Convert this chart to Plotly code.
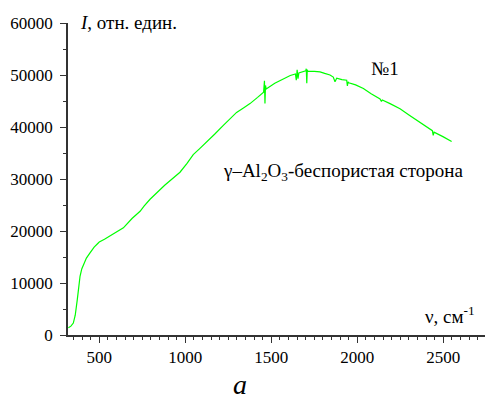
import plotly.graph_objects as go

wavenumber = [320, 335, 349, 360, 372, 380, 388, 398, 407, 425, 446, 470, 494, 500, 530, 562, 600, 640,
              690, 737, 760, 795, 880, 969, 1010, 1046, 1085, 1124, 1170, 1221, 1260, 1298, 1340, 1376,
              1420, 1455, 1460, 1463, 1466, 1470, 1520, 1570, 1610, 1640, 1645, 1650, 1655, 1660, 1700,
              1703, 1706, 1709, 1712, 1750, 1783, 1810, 1841, 1860, 1870, 1880, 1910, 1938, 1942, 1946,
              1950, 1990, 2035, 2080, 2132, 2140, 2145, 2190, 2248, 2300, 2364, 2400, 2436, 2441, 2446,
              2500, 2548]
intensity = [1400, 1700, 2300, 3800, 6800, 9300, 11300, 12700, 13500, 14800, 15800, 16900, 17700, 17900,
             18400, 19000, 19800, 20600, 22400, 23800, 24800, 26100, 28800, 31300, 33000, 34700, 35900,
             37100, 38600, 40300, 41600, 42800, 43700, 44500, 45700, 46700, 48900, 44500, 48000, 47300,
             48400, 49300, 49900, 50200, 49000, 51000, 49300, 50400, 50800, 51200, 48400, 51000, 50700,
             50700, 50600, 50300, 50000, 49600, 48700, 49400, 49100, 49000, 47900, 48700, 48500, 48100,
             47400, 46400, 45400, 44900, 45200, 44500, 43500, 42300, 40900, 40200, 39300, 38400, 39000,
             38100, 37200]

x_ticks = [500, 1000, 1500, 2000, 2500]
y_ticks = [0, 10000, 20000, 30000, 40000, 50000, 60000]

FONT = "'Liberation Serif', 'DejaVu Serif', serif"

fig = go.Figure()
fig.add_trace(go.Scatter(x=wavenumber, y=intensity, mode="lines",
                         line=dict(color="#00FF00", width=1.2), showlegend=False,
                         hoverinfo="skip"))

axis_common = dict(showline=True, linecolor="#333333", linewidth=1.5, ticks="outside",
                   tickcolor="#333333", tickwidth=1.3, ticklen=6, showgrid=False, zeroline=False,
                   tickfont=dict(family=FONT, size=17, color="black"), mirror=False)

fig.update_xaxes(range=[318, 2742], tickvals=x_ticks, ticktext=[str(v) for v in x_ticks],
                 minor=dict(dtick=50, tick0=0, ticks="outside", ticklen=3, tickcolor="#333333",
                            tickwidth=1.2, showgrid=False),
                 **axis_common)
fig.update_yaxes(range=[0, 60000], tickvals=y_ticks, ticktext=[str(v) for v in y_ticks],
                 minor=dict(dtick=5000, tick0=0, ticks="outside", ticklen=3, tickcolor="#333333",
                            tickwidth=1.2, showgrid=False),
                 ticklabelstandoff=4, **axis_common)

ann_font = dict(family=FONT, size=19, color="black")
fig.update_layout(
    width=486, height=404,
    margin=dict(l=68, r=1, t=23, b=69),
    paper_bgcolor="white", plot_bgcolor="white",
    font=dict(family=FONT),
    annotations=[
        dict(text="<i>I</i>, отн. един.", xref="paper", yref="paper", x=0.024, y=1.003,
             xanchor="left", yanchor="middle", showarrow=False, font=ann_font),
        dict(text="№1", xref="paper", yref="paper", x=0.76, y=0.855,
             xanchor="center", yanchor="middle", showarrow=False, font=ann_font),
        dict(text="γ–Al<sub>2</sub>O<sub>3</sub>-беспористая сторона", xref="paper", yref="paper",
             x=0.366, y=0.522, xanchor="left", yanchor="middle", showarrow=False, font=ann_font),
        dict(text="ν, см<sup>-1</sup>", xref="paper", yref="paper", x=0.852, y=0.065,
             xanchor="left", yanchor="middle", showarrow=False, font=ann_font),
        dict(text="<i>a</i>", xref="paper", yref="paper", x=0.412, y=-0.16,
             xanchor="center", yanchor="middle", showarrow=False,
             font=dict(family=FONT, size=28, color="black")),
    ],
)

fig.write_html("out.html")
